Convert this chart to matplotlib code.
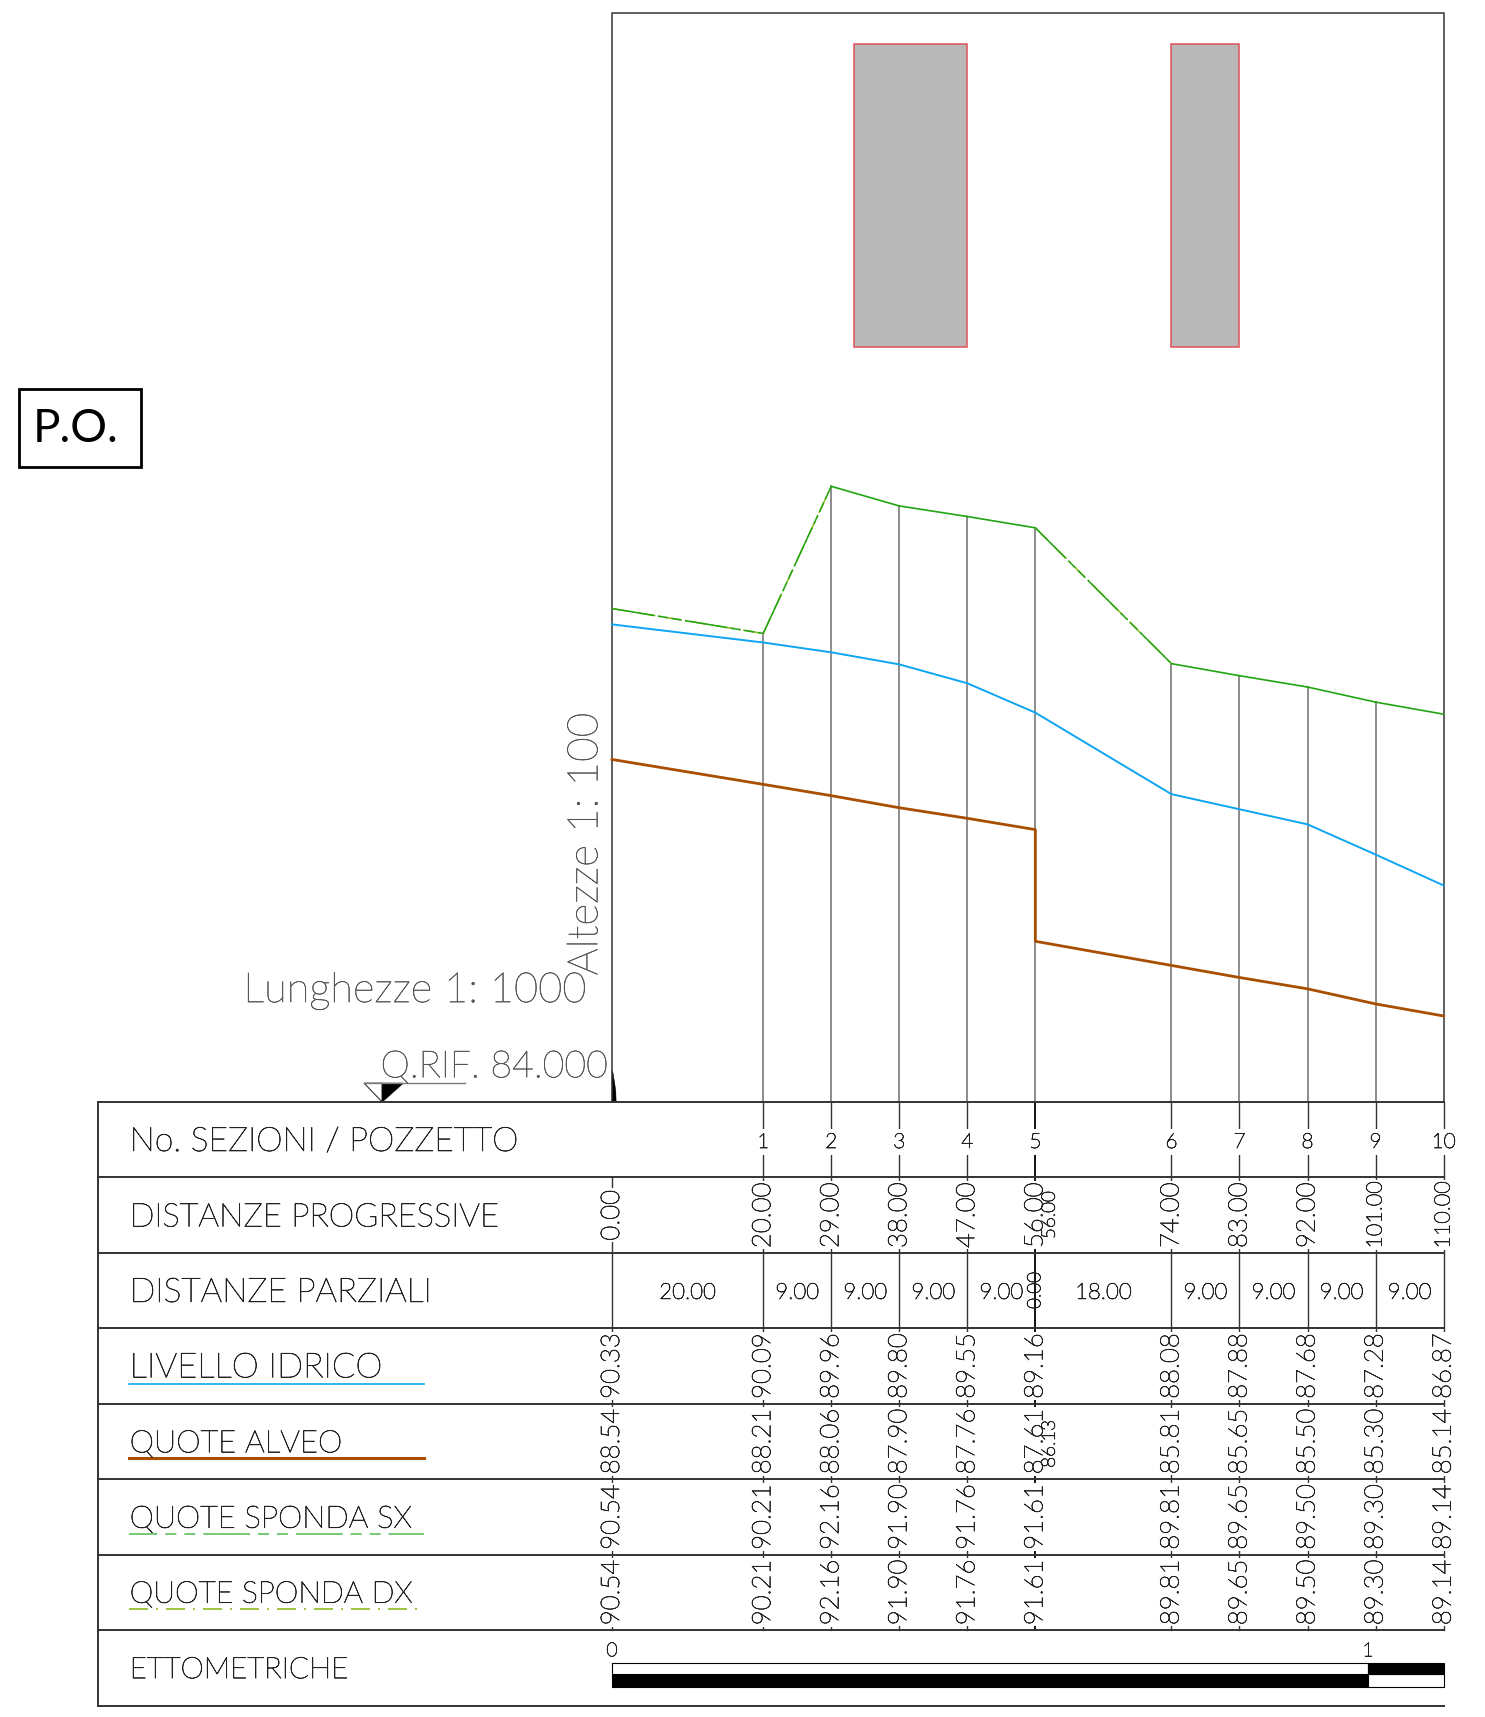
import matplotlib
matplotlib.use('Agg')
import matplotlib.pyplot as plt
from matplotlib.patches import Rectangle, Polygon
import matplotlib.patheffects as pe

plt.rcParams['font.family'] = ['Lato', 'DejaVu Sans']

# section data
sections = ['1', '2', '3', '4', '5', '6', '7', '8', '9', '10']
progressive = [0, 20, 29, 38, 47, 56, 74, 83, 92, 101, 110]
partial = [20, 9, 9, 9, 9, 18, 9, 9, 9, 9]
livello = [90.33, 90.09, 89.96, 89.80, 89.55, 89.16, 88.08, 87.88, 87.68, 87.28, 86.87]
alveo = [88.54, 88.21, 88.06, 87.90, 87.76, 87.61, 85.81, 85.65, 85.50, 85.30, 85.14]
sponda = [90.54, 90.21, 92.16, 91.90, 91.76, 91.61, 89.81, 89.65, 89.50, 89.30, 89.14]

# alveo profile has a drop at section 5
alveo_x = [0, 20, 29, 38, 47, 56, 56, 74, 83, 92, 101, 110]
alveo_z = [88.54, 88.21, 88.06, 87.90, 87.76, 87.61, 86.13, 85.81, 85.65, 85.50, 85.30, 85.14]

# grey blocks: start, end, bottom, top
blocks = [(32, 47, 94, 98.02), (74, 83, 94, 98.02)]

row_names = ['No. SEZIONI / POZZETTO', 'DISTANZE PROGRESSIVE', 'DISTANZE PARZIALI', 'LIVELLO IDRICO',
             'QUOTE ALVEO', 'QUOTE SPONDA SX', 'QUOTE SPONDA DX', 'ETTOMETRICHE']
# each name is fitted to its width in the reference
name_sizes = [24.2, 23.5, 24.3, 24.8, 22.3, 22.2, 21.7, 21.3]

blue = '#0ea5f2'
brown = '#a84e00'
green = '#22a512'
olive = '#8db91e'
dark = '#333333'
grey = '#7a7a7a'
ink = '#222222'

sx_dash = (28, 4.8, 6.6, 4.8, 6.6, 4.8)
dx_dash = (11.4, 4.8, 1.2, 4.8)
# same lines in the profile have much shorter gaps
sx_dash_chart = (28, 2.4, 6.6, 2.4, 6.6, 2.4)
dx_dash_chart = (11.4, 2.4, 1.2, 2.4)

# thin strokes on the light font, the CAD text is thin but dark
ink_fx = [pe.withStroke(linewidth=0.5, foreground=ink)]
grey_fx = [pe.withStroke(linewidth=0.4, foreground='#555555')]

# 1 unit of x = 7.56 px, 1 unit of z = 75.45 px, Q.RIF 84 sits at pixel row 1102
W, H = 1485, 1717
x0, kx = 612, 7.56
y0, kz = 1102, 75.45

fig = plt.figure(figsize=(W / 100, H / 100), dpi=100)
ax = fig.add_axes([0, 0, 1, 1])
ax.set_xlim(-x0 / kx, (W - x0) / kx)
ax.set_ylim(84 - (H - y0) / kz, 84 + y0 / kz)
ax.axis('off')

left = -68.0
top_z = 98.43

# frame
ax.plot([0, 0, 110, 110], [84, top_z, top_z, 84], color=dark, lw=1.1)

for x1, x2, z1, z2 in blocks:
    ax.add_patch(Rectangle((x1, z1), x2 - x1, z2 - z1, fc='#b8b8b8', ec='#e0505a', lw=1.1))

for x, z in zip(progressive[1:-1], sponda[1:-1]):
    ax.plot([x, x], [84, z], color=grey, lw=1.2)

ax.plot(progressive, livello, color=blue, lw=1.4)
ax.plot(alveo_x, alveo_z, color=brown, lw=2.0)

# the two banks overlap: dashed and dash-dot, gaps only show on the long spans
for i in range(len(progressive) - 1):
    xs = progressive[i:i + 2]
    zs = sponda[i:i + 2]
    if xs[1] - xs[0] > 10 or abs(zs[1] - zs[0]) > 1:
        ax.plot(xs, zs, color=olive, lw=1.1, linestyle=(0, dx_dash_chart))
        ax.plot(xs, zs, color=green, lw=1.1, linestyle=(0, sx_dash_chart))
    else:
        ax.plot(xs, zs, color=green, lw=1.2)

ax.add_patch(Polygon([(0, 84), (0, 84.42), (0.15, 84.38), (0.5, 84.15), (0.55, 84)], fc='black', ec='black', lw=0.3))

# table rows
for i in range(9):
    ax.plot([left, 110], [84 - i, 84 - i], color=dark, lw=1.4, zorder=5)
ax.plot([left, left], [76, 84], color=dark, lw=1.4, zorder=5)

for i, name in enumerate(row_names):
    ax.text(-63.8, 83.47 - i, name, fontsize=name_sizes[i], va='center', ha='left', color=ink, fontweight='light', path_effects=ink_fx)

# verticals in the rows
for x in progressive:
    top = 83 if x == 0 else 84
    ax.plot([x, x], [77, top], color=dark if x != 56 else 'black', lw=1.0 if x != 56 else 1.3, zorder=1)

num_style = dict(rotation=90, ha='center', va='center', color=ink, fontweight='light', path_effects=ink_fx,
                 bbox=dict(fc='white', ec='none', pad=1), zorder=3)

for x, s in zip(progressive[1:], sections):
    ax.text(x, 83.47, s, fontsize=15, ha='center', va='center', color=ink, fontweight='light', path_effects=ink_fx,
            bbox=dict(fc='white', ec='none', pad=2), zorder=3)

for x, d, l, a, s in zip(progressive, progressive, livello, alveo, sponda):
    ax.text(x, 82.5, '%.2f' % d, fontsize=15.5 if d >= 100 else 18.5, **num_style)
    ax.text(x, 80.5, '%.2f' % l, fontsize=18.5, **num_style)
    ax.text(x, 79.5, '%.2f' % a, fontsize=18.5, **num_style)
    ax.text(x, 78.5, '%.2f' % s, fontsize=18.5, **num_style)
    ax.text(x, 77.5, '%.2f' % s, fontsize=18.5, **num_style)

for i, p in enumerate(partial):
    mid = (progressive[i] + progressive[i + 1]) / 2
    ax.text(mid, 81.47, '%.2f' % p, fontsize=16, ha='center', va='center', color=ink, fontweight='light', path_effects=ink_fx, zorder=3)

# leftovers printed small at section 5
ax.text(57.9, 82.5, '56.00', rotation=90, fontsize=13.5, ha='center', va='center', color=ink, fontweight='light', path_effects=ink_fx, zorder=4)
ax.text(56, 81.5, '0.00', rotation=90, fontsize=13.5, ha='center', va='center', color=ink, fontweight='light', path_effects=ink_fx, zorder=4)
ax.text(57.9, 79.47, '86.13', rotation=90, fontsize=13.5, ha='center', va='center', color=ink, fontweight='light', path_effects=ink_fx, zorder=4)

# legend lines under the row names
ax.plot([-63.9, -24.9], [80.26, 80.26], color=blue, lw=1.2)
ax.plot([-63.9, -24.9], [79.28, 79.28], color=brown, lw=2.2)
ax.plot([-63.9, -24.9], [78.28, 78.28], color='#5cc15c', lw=1.2, linestyle=(11, sx_dash))
ax.plot([-63.9, -24.9], [77.28, 77.28], color=olive, lw=1.2, linestyle=(0, dx_dash))

# scale bar
ax.add_patch(Rectangle((0, 76.25), 100, 0.17, fc='black', ec='black', lw=0.8))
ax.add_patch(Rectangle((0, 76.42), 100, 0.14, fc='white', ec='black', lw=0.8))
ax.add_patch(Rectangle((100, 76.25), 10, 0.17, fc='white', ec='black', lw=0.8))
ax.add_patch(Rectangle((100, 76.42), 10, 0.14, fc='black', ec='black', lw=0.8))
ax.text(0, 76.72, '0', fontsize=14, ha='center', va='center', color=ink, fontweight='light', path_effects=ink_fx)
ax.text(100, 76.72, '1', fontsize=14, ha='center', va='center', color=ink, fontweight='light', path_effects=ink_fx)

# scale notes
ax.text(-3.4, 85.47, 'Lunghezze 1: 1000', fontsize=30, ha='right', va='center', color='#555555', fontweight='light', path_effects=grey_fx)
ax.text(-3.4, 87.42, 'Altezze 1: 100', fontsize=30.5, rotation=90, ha='center', va='center', color='#555555', fontweight='light', path_effects=grey_fx)
ax.text(-0.5, 84.46, 'Q.RIF. 84.000', fontsize=27, ha='right', va='center', color='#555555', fontweight='light', path_effects=grey_fx)

# datum triangle
ax.plot([-32.8, -19.4], [84.25, 84.25], color=grey, lw=1.0)
ax.add_patch(Polygon([(-32.8, 84.25), (-30.4, 84), (-30.4, 84.25)], fc='white', ec=dark, lw=0.8))
ax.add_patch(Polygon([(-30.4, 84.25), (-30.4, 84), (-27.6, 84.25)], fc='black', ec='black', lw=0.5))

# P.O. box
ax.add_patch(Rectangle((-78.4, 92.42), 16.1, 1.03, fc='white', ec='black', lw=2))
ax.text(-71, 92.92, 'P.O.', fontsize=33, ha='center', va='center', color='black')

fig.savefig('out.png', dpi=100)
